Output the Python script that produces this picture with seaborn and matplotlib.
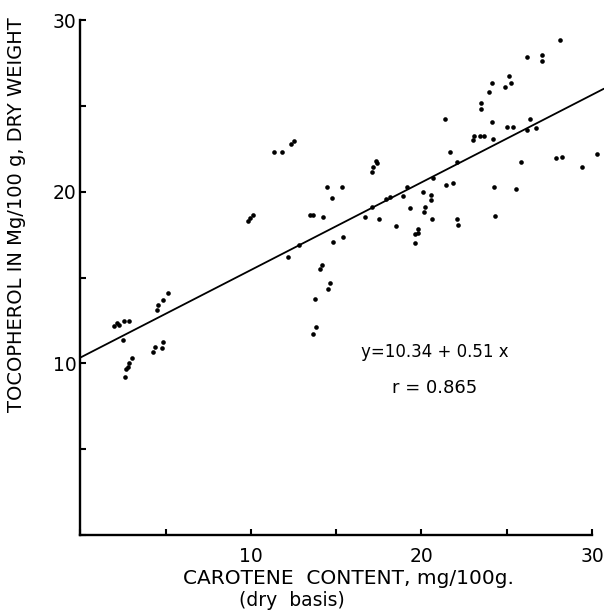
from matplotlib import pyplot as plt
import pandas as pd
import seaborn as sns
import numpy as np

# carotene (x) / tocopherol (y) readings
carotene = [1.96, 2.14, 2.26, 2.55, 2.84, 2.49, 4.49, 4.55, 4.84, 5.13,
            4.25, 4.37, 4.78, 4.84, 3.02, 2.84, 2.79, 2.67, 2.61,
            9.94, 10.12, 9.82, 11.35, 11.82, 12.35, 12.52, 12.17, 12.82,
            13.46, 13.64, 14.22, 14.46, 14.75, 15.34, 14.81, 15.40, 14.16,
            14.05, 14.63, 14.52, 13.75, 13.81, 13.64,
            17.33, 17.39, 17.16, 17.10, 16.69, 17.51, 17.10, 17.92, 18.15,
            18.92, 19.15, 19.33, 18.50, 19.79, 19.62, 19.62, 19.79, 20.09,
            20.56, 20.56, 20.20, 20.15, 20.62, 20.67, 21.43, 21.84, 21.67,
            22.08, 22.08, 22.14, 21.38, 23.08, 23.43, 23.67, 23.02, 23.49,
            23.49, 23.96, 24.13, 24.13, 24.19, 24.25, 24.31, 24.90, 25.13,
            25.25, 25.01, 25.37, 25.54, 25.84, 26.19, 26.19, 26.36, 26.72,
            27.07, 27.07, 28.12, 27.89, 28.24, 29.41, 30.29]
tocopherol = [12.17, 12.35, 12.23, 12.46, 12.46, 11.36, 13.10, 13.40, 13.69, 14.09,
              10.66, 10.95, 10.89, 11.24, 10.31, 10.02, 9.78, 9.67, 9.20,
              18.46, 18.64, 18.29, 22.31, 22.31, 22.77, 22.95, 16.19, 16.89,
              18.64, 18.64, 18.52, 20.27, 19.63, 20.27, 17.06, 17.36, 15.73,
              15.49, 14.68, 14.33, 13.74, 12.11, 11.71,
              21.78, 21.67, 21.43, 21.14, 18.52, 18.40, 19.10, 19.57, 19.69,
              19.74, 20.27, 19.04, 18.00, 17.82, 17.53, 17.01, 17.59, 19.98,
              19.80, 19.51, 19.10, 18.81, 18.40, 20.79, 20.38, 20.50, 22.31,
              21.72, 18.40, 18.05, 24.23, 23.24, 23.24, 23.24, 23.01, 25.16,
              24.81, 25.80, 26.32, 24.05, 23.06, 20.27, 18.58, 26.09, 26.73,
              26.32, 23.76, 23.76, 20.15, 21.72, 27.84, 23.59, 24.23, 23.70,
              27.96, 27.61, 28.83, 21.96, 22.01, 21.43, 22.19]

# regression y = a + b x
intercept = 10.34
slope = 0.51
line_x = [0.0, 30.7]

df = pd.DataFrame({"x": carotene, "y": tocopherol})
df_line = pd.DataFrame({"x": line_x})
df_line["y"] = intercept + slope * df_line["x"]

sns.set_style("ticks")
plt.rcParams['font.family'] = ['DejaVu Sans']
plt.rcParams['text.color'] = 'black'

fig = plt.figure(figsize=(6.04, 6.10), dpi=100)
ax = fig.add_axes([80.5 / 604, 75 / 610, 523.4 / 604, 515 / 610])

sns.scatterplot(data=df, x="x", y="y", ax=ax, color="black", s=11,
                linewidth=0, marker="o")
sns.lineplot(data=df_line, x="x", y="y", ax=ax, color="black", linewidth=1.3)

ax.set(xlim=(0, 30.7), ylim=(0, 30), xlabel="", ylabel="")
ax.set_xticks([0, 5, 10, 15, 20, 25, 30])
ax.set_xticklabels(["", "", "10", "", "20", "", "30"])
ax.set_yticks([0, 5, 10, 15, 20, 25, 30])
ax.set_yticklabels(["", "", "10", "", "20", "", "30"])
ax.tick_params(axis="both", direction="in", length=4, width=1.5,
               labelsize=13.5, color="black", labelcolor="black")
ax.tick_params(axis="x", pad=9)
ax.tick_params(axis="y", pad=3)

sns.despine(ax=ax)
for s in ["left", "bottom"]:
    ax.spines[s].set_linewidth(1.7)
    ax.spines[s].set_color("black")
ax.spines["bottom"].set_bounds(0, 30)

ax.text(20.8, 10.66, "y=10.34 + 0.51 x", ha="center", va="center",
        fontsize=12, color="black")
ax.text(20.8, 8.56, "r = 0.865", ha="center", va="center",
        fontsize=13, color="black")

fig.text(348 / 604, 1 - 578 / 610, "CAROTENE  CONTENT, mg/100g.",
         ha="center", va="center", fontsize=14.5, color="black")
fig.text(292 / 604, 1 - 600 / 610, "(dry  basis)",
         ha="center", va="center", fontsize=13.5, color="black")
fig.text(17 / 604, 1 - 215 / 610, "TOCOPHEROL IN Mg/100 g, DRY WEIGHT",
         ha="center", va="center", rotation=90, fontsize=14, color="black")

fig.savefig("out.png", dpi=100)
